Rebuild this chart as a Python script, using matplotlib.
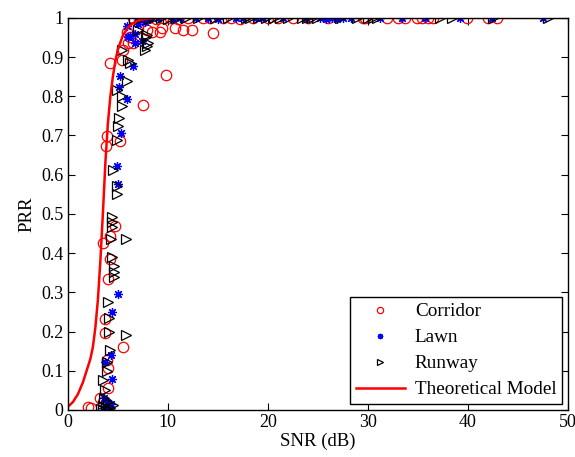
import numpy as np
import matplotlib
matplotlib.use("Agg")
import matplotlib.pyplot as plt

plt.rcParams["font.family"] = ["Liberation Serif", "DejaVu Serif"]
plt.rcParams["mathtext.fontset"] = "stix"

# Measured PRR vs SNR, rising part then saturated part (PRR ~ 1)
CORRIDOR_SNR = [2.0, 2.3, 3.2, 3.5, 3.97, 4.0, 3.87, 5.53, 3.7, 3.7, 3.97, 4.2, 3.47, 4.2, 4.7,
                3.8, 3.87, 5.2, 7.47, 9.8, 4.2, 5.37, 5.53, 6.03, 6.53, 5.87, 8.37, 9.2, 9.37,
                10.7, 11.5, 12.4, 14.5, 6.2, 7.0, 7.9,
                6.5, 7.2, 8.0, 8.8, 9.5, 10.2, 11.0, 12.0, 13.5, 14.2, 15.5, 16.3, 17.2, 18.5,
                20.0, 21.0, 22.5, 24.0, 26.0, 29.5, 29.7, 31.9, 33.0, 33.7, 34.9, 35.4, 36.0,
                36.5, 39.9, 42.0, 42.9]
CORRIDOR_PRR = [0.008, 0.004, 0.03, 0.02, 0.055, 0.107, 0.128, 0.16, 0.197, 0.231, 0.333, 0.385,
                0.425, 0.444, 0.47, 0.673, 0.699, 0.687, 0.778, 0.855, 0.884, 0.893, 0.918, 0.935,
                0.935, 0.965, 0.965, 0.965, 0.974, 0.974, 0.969, 0.969, 0.962, 0.95, 0.975, 0.97,
                1.0, 0.998, 1.0, 0.997, 1.0, 1.0, 0.998, 1.0, 1.0, 0.999, 1.0, 1.0, 0.998, 1.0,
                1.0, 1.0, 0.999, 1.0, 1.0, 1.0, 1.0, 1.0, 1.0, 1.0, 1.0, 1.0, 1.0,
                1.0, 1.0, 1.0, 1.0]

LAWN_SNR = [3.5, 3.7, 3.9, 4.1, 4.3, 3.6, 4.43, 3.7, 4.3, 4.43, 5.03, 5.03, 4.87, 5.27, 5.87,
            5.13, 5.2, 6.53, 6.7, 7.37, 6.2, 6.03, 6.7, 5.87, 7.0, 7.7,
            6.9, 7.5, 8.2, 9.0, 10.5, 11.2, 12.8, 14.0, 15.0, 16.8, 17.5, 18.8, 19.5, 21.5,
            23.8, 25.2, 25.8, 26.4, 26.9, 27.5, 28.3, 31.2, 33.4, 35.7, 39.2, 42.4, 47.5]
LAWN_PRR = [0.005, 0.01, 0.02, 0.008, 0.015, 0.03, 0.078, 0.123, 0.14, 0.251, 0.296, 0.577,
            0.621, 0.707, 0.794, 0.823, 0.852, 0.878, 0.936, 0.94, 0.954, 0.952, 0.96, 0.978,
            0.985, 0.99,
            1.0, 0.998, 1.0, 1.0, 0.997, 1.0, 1.0, 1.0, 0.998, 1.0, 1.0, 1.0, 1.0, 1.0,
            1.0, 1.0, 0.996, 1.0, 0.997, 1.0, 1.0, 1.0, 1.0, 1.0, 1.0, 1.0, 1.0]

RUNWAY_SNR = [3.3, 3.5, 3.8, 4.0, 4.2, 4.53, 3.6, 3.7, 3.47, 3.87, 3.87, 4.2, 5.8, 4.13, 4.13,
              4.03, 4.6, 4.6, 4.6, 4.37, 4.3, 5.8, 4.43, 4.43, 4.37, 4.93, 4.87, 4.53, 4.87,
              4.97, 5.13, 5.37, 5.37, 4.87, 5.87, 6.2, 6.03, 5.37, 7.7, 7.93, 8.0, 7.87, 7.8,
              7.0,
              6.6, 7.3, 8.1, 8.6, 9.3, 10.0, 10.8, 11.8, 13.0, 14.7, 16.0, 17.8, 18.2, 19.0,
              19.8, 20.6, 21.2, 22.0, 23.4, 23.9, 24.4, 24.9, 27.2, 28.9, 30.0, 30.5, 30.9,
              37.2, 38.4, 42.5, 48.0]
RUNWAY_PRR = [0.002, 0.01, 0.004, 0.02, 0.006, 0.013, 0.03, 0.051, 0.077, 0.1, 0.123, 0.153,
              0.191, 0.2, 0.234, 0.276, 0.34, 0.353, 0.366, 0.389, 0.435, 0.435, 0.467, 0.48,
              0.493, 0.55, 0.57, 0.612, 0.689, 0.723, 0.744, 0.774, 0.8, 0.816, 0.838, 0.885,
              0.893, 0.918, 0.918, 0.927, 0.935, 0.957, 0.952, 0.97,
              0.998, 1.0, 0.997, 1.0, 1.0, 0.998, 1.0, 1.0, 1.0, 0.999, 1.0, 1.0, 1.0, 1.0,
              1.0, 1.0, 1.0, 1.0, 1.0, 1.0, 1.0, 1.0, 1.0, 1.0, 1.0, 1.0, 1.0,
              1.0, 1.0, 1.0, 1.0]

# Theoretical PRR curve
MODEL_SNR = [0.0, 0.5, 1.0, 1.5, 2.0, 2.25, 2.5, 2.75, 3.0, 3.25, 3.5, 3.75, 4.0, 4.25, 4.5,
             4.75, 5.0, 5.5, 6.0, 6.5, 7.0, 8.0, 9.0, 10.0, 50.0]
MODEL_PRR = [0.008, 0.02, 0.04, 0.07, 0.11, 0.13, 0.16, 0.21, 0.28, 0.38, 0.5, 0.63, 0.73,
             0.80, 0.85, 0.89, 0.92, 0.955, 0.975, 0.986, 0.993, 0.998, 1.0, 1.0, 1.0]

fig = plt.figure(figsize=(5.75, 4.57), dpi=100)
ax = fig.add_axes([0.118, 0.103, 0.870, 0.858])

ax.plot(CORRIDOR_SNR, CORRIDOR_PRR, "o", mfc="none", mec="red", ms=7.5, mew=0.9, label="Corridor")
ax.plot(LAWN_SNR, LAWN_PRR, ls="none", marker=(8, 2, 0), mec="blue", ms=6.5, mew=0.9, label="Lawn")
ax.plot(RUNWAY_SNR, RUNWAY_PRR, ">", mfc="none", mec="black", ms=7.5, mew=0.9, label="Runway")
ax.plot(MODEL_SNR, MODEL_PRR, "-", color="red", lw=1.8, label="Theoretical Model")

ax.set_xlim(0, 50)
ax.set_ylim(0, 1)
ax.set_xticks(np.arange(0, 51, 10))
ax.set_yticks(np.arange(0, 1.01, 0.1))
ax.set_yticklabels(["0", "0.1", "0.2", "0.3", "0.4", "0.5", "0.6", "0.7", "0.8", "0.9", "1"])
ax.tick_params(direction="in", top=True, right=True, labelsize=13, length=5, width=0.8, pad=3)
for s in ax.spines.values():
    s.set_linewidth(1.0)
ax.set_xlabel("SNR (dB)", fontsize=13.5, labelpad=1)
ax.set_ylabel("PRR", fontsize=13.5, labelpad=4)

leg = ax.legend(loc="lower right", fontsize=13.8, fancybox=False, edgecolor="black",
                framealpha=1, borderaxespad=0.3, handlelength=2.6, handletextpad=0.5,
                labelspacing=0.45, borderpad=0.3, markerscale=0.6)
leg.get_frame().set_linewidth(1.0)

fig.savefig("out.png", dpi=100)
